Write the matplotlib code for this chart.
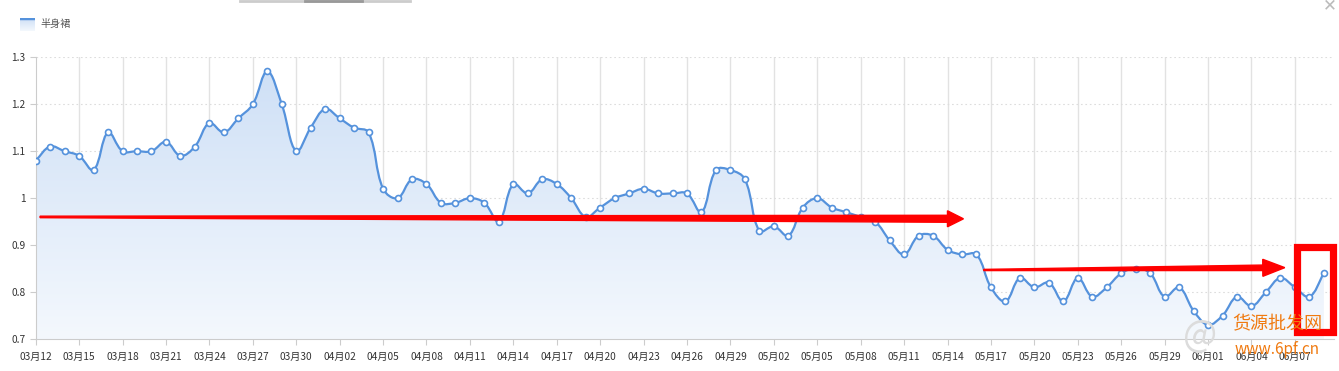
import numpy as np
import pandas as pd
import matplotlib
matplotlib.use("Agg")
import matplotlib.pyplot as plt
from matplotlib.path import Path
from matplotlib.patches import PathPatch, Polygon, Rectangle
from matplotlib.colors import LinearSegmentedColormap
from matplotlib.ticker import FuncFormatter

plt.rcParams['font.family'] = ['Noto Sans CJK SC', 'DejaVu Sans']

# data
series_name = "半身裙"
start_date = "2019-03-12"
values = [1.08, 1.11, 1.10, 1.09, 1.06, 1.14, 1.10, 1.10, 1.10, 1.12,
          1.09, 1.11, 1.16, 1.14, 1.17, 1.20, 1.27, 1.20, 1.10, 1.15,
          1.19, 1.17, 1.15, 1.14, 1.02, 1.00, 1.04, 1.03, 0.99, 0.99,
          1.00, 0.99, 0.95, 1.03, 1.01, 1.04, 1.03, 1.00, 0.96, 0.98,
          1.00, 1.01, 1.02, 1.01, 1.01, 1.01, 0.97, 1.06, 1.06, 1.04,
          0.93, 0.94, 0.92, 0.98, 1.00, 0.98, 0.97, 0.96, 0.95, 0.91,
          0.88, 0.92, 0.92, 0.89, 0.88, 0.88, 0.81, 0.78, 0.83, 0.81,
          0.82, 0.78, 0.83, 0.79, 0.81, 0.84, 0.85, 0.84, 0.79, 0.81,
          0.76, 0.73, 0.75, 0.79, 0.77, 0.80, 0.83, 0.81, 0.79, 0.84]
dates = pd.date_range(start_date, periods=len(values), freq="D")
tick_step = 3
y_ticks = [0.7, 0.8, 0.9, 1.0, 1.1, 1.2, 1.3]

# hand-drawn annotations (date index, value)
arrow1 = ((0.3, 0.960), (64.1, 0.956))
arrow2 = ((65.5, 0.847), (86.3, 0.852))
red_box = (87.13, 0.7155, 89.62, 0.8964)

line_color = "#5592dc"
W, H = 1339, 371
fig = plt.figure(figsize=(W / 100, H / 100), dpi=100)
ax = fig.add_axes([35.7 / W, 32 / H, (1334 - 35.7) / W, (339 - 57.3) / H])

x = np.arange(len(values))
y = np.array(values)
ax.set_xlim(0, 89.7)
ax.set_ylim(0.7, 1.3)

# smooth bezier through the points (computed in pixel space)
sx, sy = 14.47, 470.0
smooth = 0.38
P = np.column_stack([x * sx, y * sy])
verts = [tuple(P[0])]
codes = [Path.MOVETO]
cps = []
for i in range(len(P)):
    prev = P[i - 1] if i > 0 else P[i]
    nxt = P[i + 1] if i < len(P) - 1 else P[i]
    v = (nxt - prev) * smooth
    d0 = np.hypot(*(P[i] - prev))
    d1 = np.hypot(*(P[i] - nxt))
    s = d0 + d1
    if s:
        d0, d1 = d0 / s, d1 / s
    cps.append((P[i] - v * d0, P[i] + v * d1))
for i in range(len(P) - 1):
    verts += [tuple(cps[i][1]), tuple(cps[i + 1][0]), tuple(P[i + 1])]
    codes += [Path.CURVE4] * 3
verts = [(vx / sx, vy / sy) for vx, vy in verts]
curve = Path(verts, codes)

fill_verts = verts + [(x[-1], 0.7), (x[0], 0.7), verts[0]]
fill_codes = codes + [Path.LINETO, Path.LINETO, Path.CLOSEPOLY]
fill_patch = PathPatch(Path(fill_verts, fill_codes), facecolor="none", edgecolor="none")
ax.add_patch(fill_patch)
cmap = LinearSegmentedColormap.from_list("g", ["#f4f8fd", "#cddff6"])
grad = np.linspace(0, 1, 256).reshape(-1, 1)
im = ax.imshow(grad, cmap=cmap, origin="lower", aspect="auto",
               extent=[0, 89.7, 0.7, 1.3], zorder=1)
im.set_clip_path(fill_patch)

ax.add_patch(PathPatch(curve, facecolor="none", edgecolor=line_color, lw=1.6, zorder=3))
ax.plot(x, y, 'o', ms=4.3, mfc="white", mec=line_color, mew=1.2, zorder=4)

# axes styling
tick_idx = x[::tick_step]
ax.set_xticks(tick_idx)
ax.set_xticklabels([d.strftime("%m月%d") for d in dates[::tick_step]])
ax.set_yticks(y_ticks)
ax.yaxis.set_major_formatter(FuncFormatter(lambda v, p: f"{v:g}"))
for t in tick_idx[1:]:
    ax.axvline(t, color="#e2e2e2", lw=1, zorder=0)
for v in y_ticks[1:]:
    ax.axhline(v, color="#dddddd", lw=0.8, ls=(0, (1.5, 2.5)), zorder=0)
for side in ["top", "right"]:
    ax.spines[side].set_visible(False)
for side in ["left", "bottom"]:
    ax.spines[side].set_color("#cccccc")
ax.tick_params(axis="both", colors="#cccccc", labelcolor="#333333", labelsize=7.3, length=4)
ax.tick_params(axis="x", pad=5)

# red arrows and box
def draw_arrow(start, end, tail_w, shaft_w, head_w, head_len):
    p0 = ax.transData.transform(start)
    p1 = ax.transData.transform(end)
    d = (p1 - p0) / np.hypot(*(p1 - p0))
    n = np.array([-d[1], d[0]])
    hb = p1 - d * head_len
    pts = [p0 + n * tail_w / 2, hb + n * shaft_w / 2, hb + n * head_w / 2, p1,
           hb - n * head_w / 2, hb - n * shaft_w / 2, p0 - n * tail_w / 2]
    fig.patches.append(Polygon(pts, closed=True, color="#ff0000", transform=None, zorder=10))

draw_arrow(*arrow1, 1.5, 7, 16, 16)
draw_arrow(*arrow2, 1.2, 5.5, 17, 22)
bx0, by0, bx1, by1 = red_box
ax.add_patch(Rectangle((bx0, by0), bx1 - bx0, by1 - by0, fill=False, ec="#ff0000",
                       lw=5.2, zorder=10, clip_on=False))

# watermark
fig.text(1200 / W, 1 - 336 / H, "@", fontsize=26, color="#dcdcdc", ha="center", va="center")
fig.text(1277 / W, 1 - 324 / H, "货源批发网", fontsize=13, color="#f07a10",
         ha="center", va="center", style="italic")
fig.text(1277 / W, 1 - 350 / H, "www.6pf.cn", fontsize=11, color="#f07a10",
         ha="center", va="center", style="italic")

# legend
lg_grad = fig.add_axes([20 / W, 1 - 31 / H, 15 / W, 13 / H])
lg_grad.imshow(grad, cmap=cmap, origin="lower", aspect="auto")
lg_grad.axhline(grad.shape[0] - 1, color=line_color, lw=2.5)
lg_grad.axis("off")
fig.text(40 / W, 1 - 24 / H, series_name, fontsize=7.3, color="#555555", va="center")

# top bar and close icon from the screenshot
fig.add_artist(plt.Line2D([240 / W, 410 / W], [1 - 1 / H, 1 - 1 / H], color="#cccccc", lw=2))
fig.add_artist(plt.Line2D([305 / W, 362 / W], [1 - 1 / H, 1 - 1 / H], color="#999999", lw=2))
fig.text(1330 / W, 1 - 5 / H, "✕", fontsize=12, color="#bbbbbb", ha="center", va="center",
         family="DejaVu Sans")

fig.savefig("out.png", dpi=100)
